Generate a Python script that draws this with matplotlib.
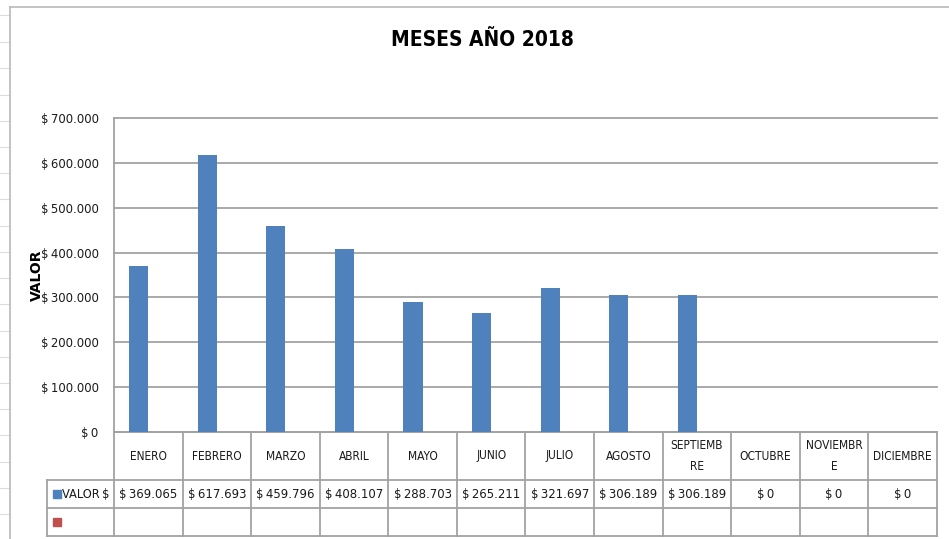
import matplotlib.pyplot as plt
from matplotlib.lines import Line2D
from matplotlib.patches import Rectangle
from matplotlib.transforms import blended_transform_factory
from matplotlib import font_manager
import numpy as np

meses = ['ENERO', 'FEBRERO', 'MARZO', 'ABRIL', 'MAYO', 'JUNIO', 'JULIO',
         'AGOSTO', 'SEPTIEMB\nRE', 'OCTUBRE', 'NOVIEMBR\nE', 'DICIEMBRE']
valor = [369065, 617693, 459796, 408107, 288703, 265211, 321697,
         306189, 306189, 0, 0, 0]
yticks = [0, 100000, 200000, 300000, 400000, 500000, 600000, 700000]

# a narrow face looks closer to the Calibri of the original, if there is one
narrow = [f for f in font_manager.fontManager.ttflist
          if f.name == 'DejaVu Sans' and f.stretch == 'condensed']
if narrow:
    FONT = ['DejaVu Sans']
    STRETCH = 'condensed'
    k = 1.0
else:
    FONT = ['Liberation Sans', 'DejaVu Sans']
    STRETCH = 'normal'
    k = 0.88
plt.rcParams['font.family'] = FONT
plt.rcParams['font.stretch'] = STRETCH
GRID = '#a3a3a3'
BLUE = '#4f81bd'
RED = '#c0504d'
INK = '#1a1a1a'


def pesos(v):
    return '$\u2009' + f'{int(v):,}'.replace(',', '.')


fig = plt.figure(figsize=(9.49, 5.39), dpi=100)
W, H = 949, 539

# spreadsheet background bits + chart border
for y in [15, 42, 68, 95, 121, 147, 173, 199, 226, 252, 278, 304, 331, 357, 383, 409, 435, 462, 488, 514]:
    fig.add_artist(Line2D([0, 10 / W], [1 - y / H, 1 - y / H], color='#d9dde3', lw=0.8))
fig.add_artist(Line2D([10 / W, 10 / W], [0, 1 - 7 / H], color='#b9b9b9', lw=1.2))
fig.add_artist(Line2D([10 / W, 1], [1 - 7 / H, 1 - 7 / H], color='#b9b9b9', lw=1.2))

ax = fig.add_axes([114 / W, 1 - 432 / H, 823 / W, 314 / H])
x = np.arange(len(meses))
bw = 0.28
ax.bar(x - bw / 2, valor, width=bw, color=BLUE, zorder=3)
ax.set_xlim(-0.5, len(meses) - 0.5)
ax.set_ylim(0, 700000)
ax.set_yticks(yticks)
ax.set_yticklabels([pesos(v) for v in yticks], fontsize=9.4 * k, color=INK)
ax.yaxis.grid(True, color=GRID, lw=1.3, zorder=0)
for gl in ax.get_ygridlines():
    gl.set_clip_on(False)
ax.set_xticks([])
ax.tick_params(axis='y', length=0, pad=11)
for s in ['top', 'right', 'bottom']:
    ax.spines[s].set_visible(False)
ax.spines['left'].set_color(GRID)
ax.spines['left'].set_linewidth(1.3)
ax.set_ylabel('VALOR', fontsize=10, fontweight='bold', family='DejaVu Sans',
              fontstretch='normal')
ax.yaxis.set_label_coords(-70 / 823, 0.5)

fig.text(482 / W, 1 - 40 / H, 'MESES AÑO 2018', ha='center', va='center',
         fontsize=15 * k, fontweight='bold')

# data table under the axis
tr = blended_transform_factory(ax.transData, ax.transAxes)
r1, r2, r3 = -48 / 314, -76 / 314, -104 / 314
lab_x = -67 / 823
kw = dict(color=GRID, lw=1.3, clip_on=False)
ax.plot([-0.5, len(meses) - 0.5], [0, 0], transform=tr, **kw)
for yy in [r1, r2, r3]:
    ax.plot([lab_x, 1], [yy, yy], transform=ax.transAxes, **kw)
ax.plot([lab_x, lab_x], [r1, r3], transform=ax.transAxes, **kw)
for i in range(len(meses) + 1):
    ax.plot([i - 0.5, i - 0.5], [0, r3], transform=tr, **kw)

for i, m in enumerate(meses):
    ax.text(i, r1 / 2, m, transform=tr, ha='center', va='center',
            fontsize=8.6 * k, linespacing=1.8, color=INK)
    ax.text(i, (r1 + r2) / 2, pesos(valor[i]), transform=tr, ha='center',
            va='center', fontsize=9.4 * k, color=INK)

# legend keys of the table rows
sw, sh = 8 / 823, 8 / 314
for yy, c in [((r1 + r2) / 2, BLUE), ((r2 + r3) / 2, RED)]:
    ax.add_patch(Rectangle((lab_x + 6 / 823, yy - sh / 2), sw, sh, color=c,
                           transform=ax.transAxes, clip_on=False))
ax.text(lab_x + 15 / 823, (r1 + r2) / 2, 'VALOR\u2009$', transform=ax.transAxes,
        ha='left', va='center', fontsize=9.2 * k, color=INK)

fig.savefig('out.png', dpi=100, facecolor='white')
